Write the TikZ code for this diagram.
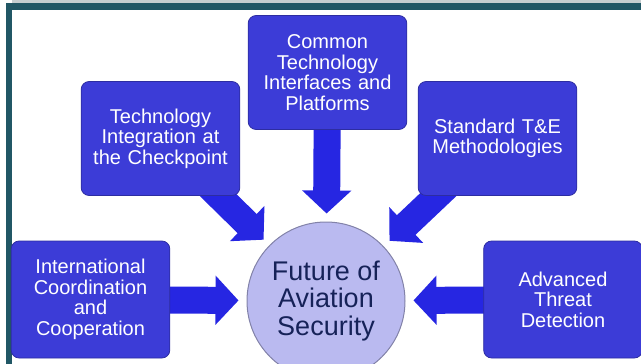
\documentclass[tikz,border=0pt]{standalone}
\usepackage{fontspec}
\setmainfont{Liberation Sans}
\usetikzlibrary{arrows.meta, positioning, backgrounds}
\definecolor{frameteal}{RGB}{33,87,101}
\definecolor{framegray}{RGB}{198,206,208}
\definecolor{boxblue}{RGB}{60,60,215}
\definecolor{arrowblue}{RGB}{38,38,226}
\definecolor{circlelav}{RGB}{186,186,240}
\definecolor{circletext}{RGB}{22,34,88}

\begin{document}
\begin{tikzpicture}[x=1pt,y=-1pt,
    box/.style={rectangle,draw=boxblue!75!black,fill=boxblue,rounded corners=8pt,line width=0.8pt,minimum width=155pt,minimum height=114pt,text width=152pt,align=center,text=white,font=\fontsize{20}{20.5}\selectfont},
    fat/.style={line width=27pt,arrowblue,-{Triangle[length=23pt,width=48pt]},shorten >=8pt}]
    \useasboundingbox (0,0) rectangle (641,364);
    \clip (0,0) rectangle (641,364);

    % Rahmen
    \fill[framegray] (12,0) rectangle (641,3);
    \fill[frameteal] (6,3) rectangle (641,10);
    \fill[frameteal] (6,3) rectangle (12,364);

    % Mitte
    \node[circle,draw=circlelav!70!black,fill=circlelav,line width=1pt,minimum size=158pt,align=center,text=circletext,font=\fontsize{27}{27.5}\selectfont] (future) at (326,301) {Future of\\Aviation\\Security};

    % Kästen
    \node[box] (common) at (327.5,72.5) {Common\\Technology\\Interfaces and\\Platforms};
    \node[box] (integ) at (160.5,138.5) {Technology\\Integration at\\the Checkpoint};
    \node[box] (std) at (497.5,138.5) {Standard T\&E\\Methodologies};
    \node[box,minimum height=117pt] (intl) at (90.5,299.5) {International\\Coordination\\and\\Cooperation};
    \node[box,minimum width=149pt,minimum height=117pt] (threat) at (563,299.5) {Advanced\\Threat\\Detection};

    % Pfeile
    \begin{scope}[on background layer]
        \draw[fat] (common.center) -- (future);
        \draw[fat] (integ.center) -- (future);
        \draw[fat] (std.center) -- (future);
        \draw[fat] (intl.center) -- (future);
        \draw[fat] (threat.center) -- (future);
    \end{scope}
\end{tikzpicture}
\end{document}
